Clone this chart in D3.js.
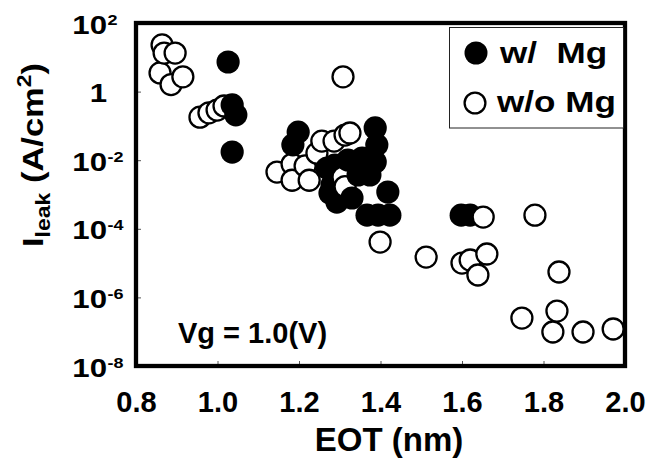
<!DOCTYPE html>
<html>
<head>
<meta charset="utf-8">
<script src="https://cdn.jsdelivr.net/npm/d3@7"></script>
<style>
  body { margin: 0; background: #fff; }
  svg { font-family: "Liberation Sans", Arial, sans-serif; font-weight: bold; }
</style>
</head>
<body>
<div id="chart"></div>
<script>
// EOT (nm) and leakage current density (A/cm2)
var withMgEot = [1.026, 1.036, 1.045, 1.036, 1.198, 1.185, 1.387, 1.391, 1.387, 1.288, 1.345, 1.355,
                 1.281, 1.293, 1.330, 1.418, 1.367, 1.394, 1.423, 1.598, 1.620, 1.269, 1.276, 1.320, 1.374];
var withMgJ   = [7.3, 0.41, 0.21, 0.0173, 0.066, 0.028, 0.087, 0.028, 8.9e-3, 7.2e-3, 3.7e-3, 0.0116,
                 1.9e-3, 6.0e-4, 7.9e-4, 1.18e-3, 2.5e-4, 2.5e-4, 2.5e-4, 2.5e-4, 2.5e-4, 5.9e-3, 1.1e-3, 0.0101, 3.7e-3];

var withoutMgEot = [0.864, 0.869, 0.896, 0.859, 0.915, 0.886, 0.957, 0.979, 0.999, 1.016,
                    1.146, 1.183, 1.215, 1.183, 1.225, 1.244, 1.256, 1.286, 1.313, 1.325, 1.308, 1.313, 1.308,
                    1.399, 1.512, 1.600, 1.620, 1.661, 1.639, 1.652, 1.779, 1.838, 1.747, 1.833, 1.823, 1.897, 1.971];
var withoutMgJ   = [22.9, 13.3, 13.3, 3.5, 2.7, 1.6, 0.18, 0.24, 0.29, 0.38,
                    4.5e-3, 7.7e-3, 6.8e-3, 2.6e-3, 2.6e-3, 0.016, 0.036, 0.036, 0.054, 0.062, 2.7, 1.7e-3, 3.2e-3,
                    4.1e-5, 1.5e-5, 1.0e-5, 1.23e-5, 1.84e-5, 4.5e-6, 2.2e-4, 2.5e-4, 5.5e-6, 2.5e-7, 4.0e-7, 9.8e-8, 9.8e-8, 1.2e-7];

var xTicks = [0.8, 1.0, 1.2, 1.4, 1.6, 1.8, 2.0];
var yTicks = [1e-8, 1e-6, 1e-4, 1e-2, 1, 1e2];
var seriesNames = ["w/  Mg", "w/o Mg"];

var font = "'Liberation Sans', Arial, sans-serif";
var width = 647, height = 462;
var margin = {top: 23, right: 22, bottom: 96, left: 136};

var svg = d3.select("#chart").append("svg")
    .attr("width", width)
    .attr("height", height);

var x = d3.scaleLinear().domain([0.8, 2.0]).range([margin.left, width - margin.right]);
var y = d3.scaleLog().domain([1e-8, 1e2]).range([height - margin.bottom, margin.top]);

// points, combined and drawn in order of EOT
var points = [];
withMgEot.forEach(function(d, i) { points.push({eot: d, j: withMgJ[i], mg: true}); });
withoutMgEot.forEach(function(d, i) { points.push({eot: d, j: withoutMgJ[i], mg: false}); });
points.sort(function(a, b) { return a.eot - b.eot; });

svg.append("g").selectAll("circle")
    .data(points)
    .enter().append("circle")
    .attr("cx", (d) => x(d.eot))
    .attr("cy", (d) => y(d.j))
    .attr("r", (d) => d.mg ? 11.6 : 10.5)
    .attr("fill", (d) => d.mg ? "#000" : "#fff")
    .attr("stroke", (d) => d.mg ? "none" : "#000")
    .attr("stroke-width", 2.3);

// x axis, inward ticks
var xAxis = svg.append("g")
    .attr("transform", "translate(0," + (height - margin.bottom) + ")")
    .call(d3.axisBottom(x).tickValues(xTicks).tickSize(-5).tickSizeOuter(0).tickPadding(25)
        .tickFormat(d3.format(".1f")));
xAxis.select(".domain").remove();
xAxis.selectAll("line").attr("stroke", "#555");
xAxis.selectAll("text").attr("fill", "#000").style("font-size", "29px").style("font-family", font);

// y axis, inward ticks with 10^n labels
var yAxis = svg.append("g")
    .attr("transform", "translate(" + margin.left + ",0)")
    .call(d3.axisLeft(y).tickValues(yTicks).tickSize(-5).tickSizeOuter(0).tickFormat(""));
yAxis.select(".domain").remove();
yAxis.selectAll("line").attr("stroke", "#555");
yAxis.selectAll(".tick").each(function(d) {
  var g = d3.select(this).append("g")
      .attr("transform", "translate(-29,10) scale(1.2,1)")
      .attr("fill", "#000")
      .style("font-family", font);
  var e = Math.round(Math.log10(d));
  g.append("text").attr("text-anchor", "end").style("font-size", "26px")
      .text(e === 0 ? "1" : "10");
  if (e !== 0) {
    g.append("text").attr("text-anchor", "start").attr("x", 0.5).attr("y", -9)
        .style("font-size", "15px").text(String(e));
  }
});

// frame
svg.append("rect")
    .attr("x", margin.left).attr("y", margin.top)
    .attr("width", width - margin.left - margin.right)
    .attr("height", height - margin.top - margin.bottom)
    .attr("fill", "none").attr("stroke", "#000").attr("stroke-width", 4.3);

// legend
var legend = svg.append("g");
legend.append("rect")
    .attr("x", 449.5).attr("y", 27.5).attr("width", 174).attr("height", 100.5)
    .attr("fill", "#fff").attr("stroke", "#222").attr("stroke-width", 1);
legend.append("circle").attr("cx", 476).attr("cy", 53).attr("r", 11.5).attr("fill", "#000");
legend.append("circle").attr("cx", 475).attr("cy", 103).attr("r", 10.4)
    .attr("fill", "#fff").attr("stroke", "#000").attr("stroke-width", 2.3);
legend.append("text").attr("transform", "translate(500,63) scale(1.17,1)")
    .style("font-size", "30px").style("white-space", "pre").text(seriesNames[0]);
legend.append("text").attr("transform", "translate(497,112) scale(1.17,1)")
    .style("font-size", "30px").style("white-space", "pre").text(seriesNames[1]);

// annotation
svg.append("text").attr("x", 178).attr("y", 343).style("font-size", "29px").text("Vg = 1.0(V)");

// axis titles
svg.append("text").attr("x", 389).attr("y", 451).attr("text-anchor", "middle")
    .style("font-size", "33px").text("EOT (nm)");

var yTitle = svg.append("text")
    .attr("transform", "translate(43,155) rotate(-90) scale(1.15,1)")
    .attr("text-anchor", "middle")
    .style("font-size", "30px");
yTitle.append("tspan").text("I");
yTitle.append("tspan").attr("dy", 7).style("font-size", "20px").text("leak");
yTitle.append("tspan").attr("dy", -7).style("white-space", "pre").text(" (A/cm");
yTitle.append("tspan").attr("dy", -12).style("font-size", "20px").text("2");
yTitle.append("tspan").attr("dy", 12).text(")");
</script>
</body>
</html>
